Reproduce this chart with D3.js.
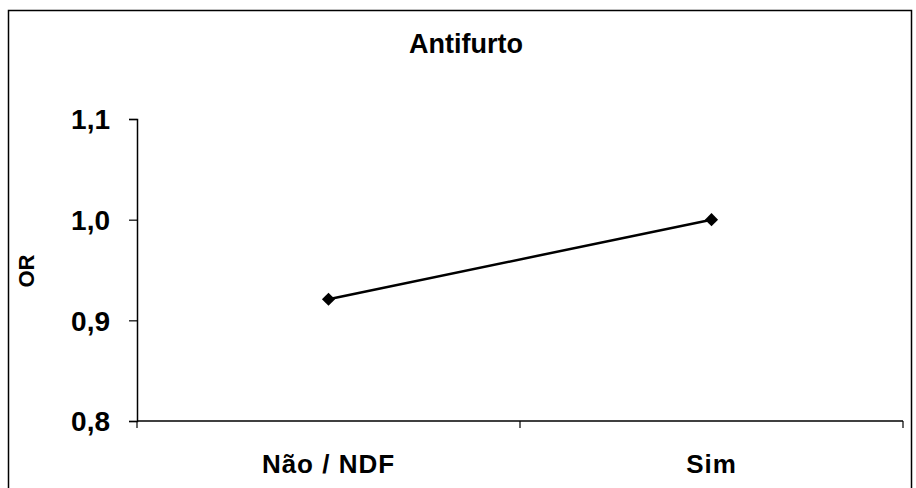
<!DOCTYPE html>
<html>
<head>
<meta charset="utf-8">
<script src="https://cdn.jsdelivr.net/npm/d3@7"></script>
<style>
  body { margin: 0; background: #fff; }
  text { font-family: "Liberation Sans", Arial, sans-serif; fill: #000; }
</style>
</head>
<body>
<div id="chart"></div>
<script>
var categories = ["Não / NDF", "Sim"];
var orValues = [0.921, 1.0];
var yTicks = [0.8, 0.9, 1.0, 1.1];
var chartTitle = "Antifurto";
var yLabel = "OR";

var width = 916, height = 488;
var m_left = 137, m_right = 903, m_top = 119, m_bottom = 421;

var svg = d3.select("#chart").append("svg")
    .attr("width", width)
    .attr("height", height);

// outer frame
svg.append("rect")
    .attr("x", 8.5).attr("y", 10.5)
    .attr("width", 903).attr("height", 490)
    .attr("fill", "none").attr("stroke", "#000").attr("stroke-width", 1.5);

var x = d3.scaleBand().domain(categories).range([m_left, m_right]);
var y = d3.scaleLinear().domain([0.8, 1.1]).range([m_bottom, m_top]);

// y axis
var yAxis = svg.append("g")
    .attr("transform", "translate(" + m_left + ",0)")
    .call(d3.axisLeft(y).tickValues(yTicks).tickSize(8).tickPadding(19)
        .tickFormat(function(d){ return d3.format(".1f")(d).replace(".", ","); }));
yAxis.select(".domain").attr("stroke", "#000").attr("stroke-width", 1.5);
yAxis.selectAll(".tick line").attr("stroke", "#000").attr("stroke-width", 1.2);
yAxis.selectAll(".tick text")
    .style("font-size", "28px")
    .attr("font-family", null)
    .attr("font-weight", "bold")
    .attr("dy", "0.35em");

// x axis - ticks at band edges, labels at band centres
var xAxis = svg.append("g")
    .attr("transform", "translate(0," + m_bottom + ")");
xAxis.append("line")
    .attr("x1", m_left).attr("x2", m_right)
    .attr("stroke", "#000").attr("stroke-width", 1.5);
var edges = categories.map(function(c){ return x(c); }).concat([x.range()[1]]);
xAxis.selectAll("line.edge").data(edges).enter().append("line")
    .attr("class", "edge")
    .attr("x1", function(d){ return d; }).attr("x2", function(d){ return d; })
    .attr("y1", 0).attr("y2", 7)
    .attr("stroke", "#000").attr("stroke-width", 1.2);
xAxis.selectAll("text.cat").data(categories).enter().append("text")
    .attr("class", "cat")
    .attr("x", function(d){ return x(d) + x.bandwidth() / 2; })
    .attr("y", 52)
    .attr("text-anchor", "middle")
    .style("font-size", "26px")
    .style("font-weight", "bold")
    .style("letter-spacing", "1px")
    .text(function(d){ return d; });

// line + diamond markers
var pts = categories.map(function(c, i){ return {cat: c, v: orValues[i]}; });
var line = d3.line()
    .x(function(d){ return x(d.cat) + x.bandwidth() / 2; })
    .y(function(d){ return y(d.v); });
svg.append("path")
    .datum(pts)
    .attr("d", line)
    .attr("fill", "none")
    .attr("stroke", "#000")
    .attr("stroke-width", 2.5);
svg.selectAll("path.marker").data(pts).enter().append("path")
    .attr("class", "marker")
    .attr("d", d3.symbol().type(d3.symbolDiamond2).size(110))
    .attr("transform", function(d){
        return "translate(" + (x(d.cat) + x.bandwidth() / 2) + "," + y(d.v) + ")";
    })
    .attr("fill", "#000");

// title
svg.append("text")
    .attr("x", 466).attr("y", 53)
    .attr("text-anchor", "middle")
    .style("font-size", "27px")
    .style("font-weight", "bold")
    .text(chartTitle);

// y label
svg.append("text")
    .attr("transform", "translate(34,271) rotate(-90)")
    .attr("text-anchor", "middle")
    .style("font-size", "22px")
    .style("font-weight", "bold")
    .text(yLabel);
</script>
</body>
</html>
